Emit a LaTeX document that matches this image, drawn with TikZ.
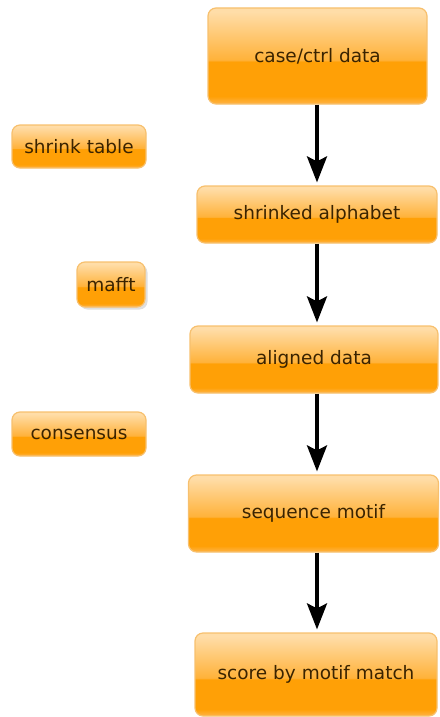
\documentclass[tikz,border=0pt]{standalone}
\usepackage{fontspec}
\setmainfont{DejaVu Sans}
\usetikzlibrary{arrows.meta,shadows}
\definecolor{otop}{HTML}{FFDDA8}
\definecolor{omid}{HTML}{FFB23A}
\definecolor{obot}{HTML}{FFA006}
\definecolor{obotl}{HTML}{FFB448}
\definecolor{oedge}{HTML}{F7C06E}
\definecolor{otext}{HTML}{3A2300}
\pgfdeclareverticalshading{gloss}{100bp}{color(0bp)=(obotl); color(25bp)=(obotl); color(29bp)=(obot); color(47bp)=(obot); color(48bp)=(omid); color(73bp)=(otop); color(100bp)=(otop)}
\tikzset{
  box/.style={rounded corners=8pt, draw=oedge, line width=1.2pt, inner sep=0pt,
    font=\fontsize{18.5}{20}\selectfont, text=otext, align=center, shading=gloss},
  flow/.style={line width=3.5pt, -{Stealth[length=26pt,width=20pt,inset=5pt]}, shorten >=3pt}
}
\begin{document}
\begin{tikzpicture}[x=1pt,y=-1pt]
\useasboundingbox (0,0) rectangle (439,717);
\node[box, minimum width=219pt, minimum height=96pt] (case) at (317.5,56) {case/ctrl data};
\node[box, minimum width=134pt, minimum height=43pt] (shrink) at (79,146.5) {shrink table};
\node[box, minimum width=240pt, minimum height=57pt] (alpha) at (317,214.5) {shrinked alphabet};
\node[box, minimum width=68pt, minimum height=45pt, drop shadow={shadow xshift=2.5pt, shadow yshift=-2.5pt, opacity=0.25}] (mafft) at (111,284.5) {mafft};
\node[box, minimum width=248pt, minimum height=67pt] (aligned) at (314,359.5) {aligned data};
\node[box, minimum width=134pt, minimum height=44pt] (cons) at (79,434) {consensus};
\node[box, minimum width=250pt, minimum height=77pt] (motif) at (313.5,513.5) {sequence motif};
\node[box, minimum width=242pt, minimum height=83pt] (score) at (316,674.5) {score by motif match};
\draw[flow] (case.south -| 317,0) -- (alpha.north -| 317,0);
\draw[flow] (alpha.south -| 317,0) -- (aligned.north -| 317,0);
\draw[flow] (aligned.south -| 317,0) -- (motif.north -| 317,0);
\draw[flow] (motif.south -| 317,0) -- (score.north -| 317,0);
\end{tikzpicture}
\end{document}
